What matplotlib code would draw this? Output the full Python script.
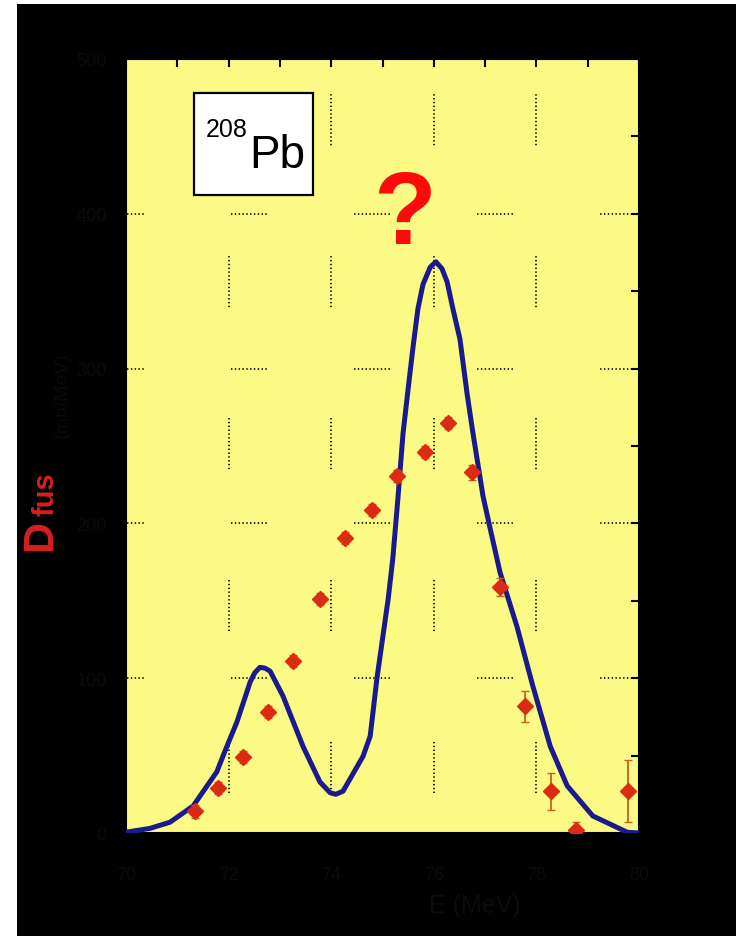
import matplotlib
matplotlib.use('Agg')
import matplotlib.pyplot as plt
from matplotlib.patches import Rectangle
from matplotlib.ticker import MultipleLocator

plt.rcParams['lines.scale_dashes'] = False
plt.rcParams['font.family'] = ['Liberation Sans', 'DejaVu Sans']

# calculated barrier distribution (coupled channels)
E_calc = [70.00, 70.47, 70.86, 71.31, 71.77, 71.93, 72.16, 72.42, 72.51, 72.61,
          72.71, 72.81, 73.06, 73.45, 73.78, 73.98, 74.09, 74.23, 74.62, 74.76,
          74.89, 75.11, 75.20, 75.30, 75.40, 75.50, 75.59, 75.69, 75.79, 75.93,
          76.04, 76.16, 76.26, 76.37, 76.51, 76.65, 76.76, 76.96, 77.10, 77.29,
          77.62, 77.93, 78.27, 78.60, 79.10, 79.77, 80.00]
D_calc = [0.5, 3, 7, 17.5, 39.5, 53, 71.5, 97.5, 103.5, 107,
          106.5, 104.5, 88.5, 56, 33, 26, 25, 27, 49.5, 62.5,
          99.5, 151, 177, 216, 258, 287, 312.5, 338.5, 354.5, 365.5,
          369, 364.5, 356, 339, 319, 283.5, 259, 217.5, 196.5, 168.5,
          133.5, 95, 56, 30.5, 11, 0.5, 0]

# measured D_fus
E_exp = [71.35, 71.79, 72.28, 72.77, 73.26, 73.78, 74.27, 74.80, 75.28,
         75.83, 76.28, 76.74, 77.29, 77.78, 78.28, 78.77, 79.79]
D_exp = [14, 29, 49, 78, 111, 151, 190.5, 208.5, 230.5,
         246, 265, 233, 159, 82, 27, 2, 27]
D_err = [4, 4, 4, 4, 4, 4, 4, 4, 4,
         4, 4, 5, 6, 10, 12, 5, 20]

x_major = [70, 72, 74, 76, 78, 80]
y_major = [0, 100, 200, 300, 400, 500]

W, H = 736, 937
fig = plt.figure(figsize=(W / 100, H / 100), dpi=100, facecolor='white')
fig.patches.append(Rectangle((17 / W, 0), 1 - 17 / W, (H - 5) / H,
                             transform=fig.transFigure, facecolor='black',
                             edgecolor='none', zorder=-10))

ax = fig.add_axes([126 / W, (H - 834) / H, 513 / W, 774 / H])
ax.set_facecolor('#fafa84')
for s in ax.spines.values():
    s.set_color('black')
    s.set_linewidth(1.5)

ax.plot(E_calc, D_calc, color='#1a1a8e', lw=3.6, zorder=3)
ax.errorbar(E_exp, D_exp, yerr=D_err, fmt='D', ms=8, color='#dd2a12',
            mec='#dd2a12', ecolor='#c8601c', elinewidth=1.3, capsize=3,
            zorder=4)

ax.set_xlim(70, 80)
ax.set_ylim(0, 500)
ax.set_xticks(x_major)
ax.set_yticks(y_major)
ax.xaxis.set_minor_locator(MultipleLocator(1))
ax.yaxis.set_minor_locator(MultipleLocator(50))
ax.tick_params(which='both', direction='in', top=True, right=True,
               bottom=False, left=False, length=6, width=1.5, color='black',
               labelsize=13, labelcolor='#0b0b0b')
ax.tick_params(axis='x', pad=24)
ax.tick_params(axis='y', pad=14)

# matlab-style broken dotted grid
vdash = (87.8, (1, 1.75) * 13 + (1, 79.85))
hdash = (13.0, (1, 1.75) * 9 + (1, 62.85))
ax.grid(axis='x', which='major', color='black', lw=1.2, linestyle=vdash)
ax.grid(axis='y', which='major', color='black', lw=1.2, linestyle=hdash)
ax.set_axisbelow(True)

# nucleus label box
fig.patches.append(Rectangle((194 / W, 1 - 196 / H), 119 / W, 102 / H,
                             transform=fig.transFigure, facecolor='white',
                             edgecolor='black', lw=1.6, zorder=5))
fig.text(206 / W, 1 - 137 / H, '208', fontsize=18, ha='left',
         va='baseline', zorder=6)
fig.text(249 / W, 1 - 168 / H, 'Pb', fontsize=33, ha='left',
         va='baseline', zorder=6)

fig.text(405 / W, 1 - 218 / H, '?', fontsize=74, fontweight='bold',
         color='#ff0a0a', ha='center', va='center')

# axis titles
fig.text(40 / W, 1 - 536 / H, 'D', fontsize=31, fontweight='bold',
         color='#d42020', rotation=90, ha='center', va='center')
fig.text(46 / W, 1 - 494 / H, 'fus', fontsize=21, fontweight='bold',
         color='#d42020', rotation=90, ha='center', va='center')
fig.text(62 / W, 1 - 395 / H, '(mb/MeV)', fontsize=14, color='#0a0a0a',
         rotation=90, ha='center', va='center')
fig.text(475 / W, 1 - 906 / H, 'E (MeV)', fontsize=18, color='#0b0b0b',
         ha='center', va='center')

fig.savefig('out.png', dpi=100, facecolor=fig.get_facecolor())
